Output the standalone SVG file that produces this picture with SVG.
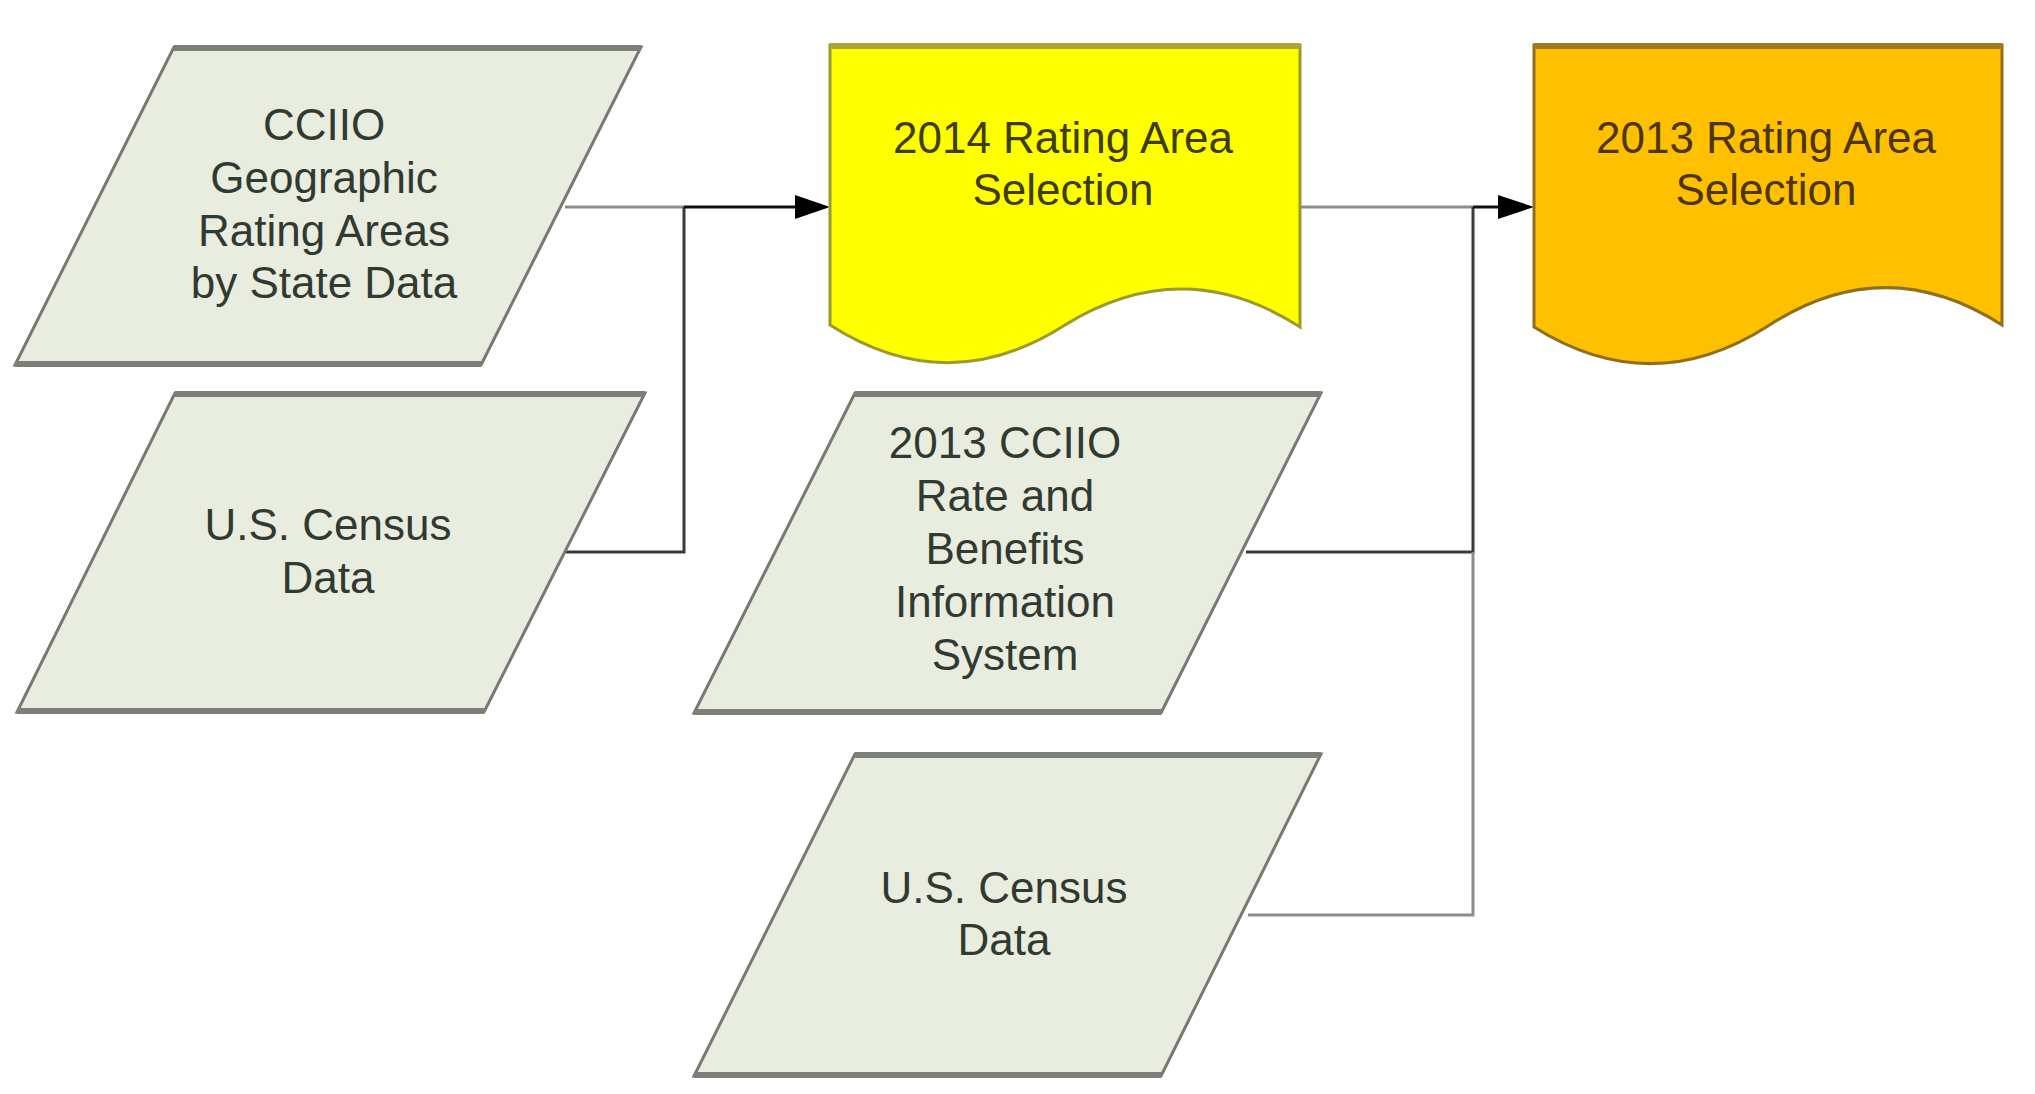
<svg xmlns="http://www.w3.org/2000/svg" width="2035" height="1094" viewBox="0 0 2035 1094">
<defs>
<style>
.data{fill:#e9ede0;stroke:#767a72;stroke-width:3;stroke-linejoin:miter}
.edge{stroke:#7c7f78;stroke-width:6;fill:none}
.t{font-family:"Liberation Sans",Arial,sans-serif;font-size:44px;text-anchor:middle}
.tg{fill:#313a31}
.ty{fill:#3e3c00}
.to{fill:#4d3500}
.doc1{fill:#ffff00;stroke:#9a9a2e;stroke-width:3}
.doc2{fill:#ffc000;stroke:#8f6f1c;stroke-width:3}
.dark{stroke:#3a3a3a;stroke-width:3;fill:none}
.light{stroke:#8c8c8c;stroke-width:3;fill:none}
</style>
<marker id="arr" markerWidth="12" markerHeight="10" refX="11" refY="5" orient="auto" markerUnits="userSpaceOnUse" viewBox="0 0 12 10">
<path d="M0,0 L12,5 L0,10 Z" fill="#000"/>
</marker>
</defs>
<rect width="2035" height="1094" fill="#ffffff"/>

<g id="connectors">
<polyline class="light" points="565,207 684,207"/>
<polyline class="dark" points="566,552 684,552 684,207"/>
<line x1="684" y1="207" x2="800" y2="207" stroke="#111" stroke-width="3"/>
<path d="M795,195 L830,207 L795,219 Z" fill="#000"/>
<polyline class="light" points="1300,207 1473,207"/>
<polyline class="dark" points="1246,552 1473,552 1473,207"/>
<polyline class="light" points="1248,915 1473,915 1473,552"/>
<line x1="1473" y1="207" x2="1500" y2="207" stroke="#111" stroke-width="3"/>
<path d="M1498,195 L1534,207 L1498,219 Z" fill="#000"/>
</g>

<g id="node-ccio-geo">
<polygon class="data" points="174,47 641,47 481,365 15,365"/>
<line class="edge" x1="174" y1="48" x2="641" y2="48"/>
<line class="edge" x1="15" y1="364" x2="481" y2="364"/>
<text class="t tg" x="324" y="140">CCIIO</text>
<text class="t tg" x="324" y="193">Geographic</text>
<text class="t tg" x="324" y="246">Rating Areas</text>
<text class="t tg" x="324" y="298">by State Data</text>
</g>

<g id="node-census-1">
<polygon class="data" points="175,393 645,393 484,712 17,712"/>
<line class="edge" x1="175" y1="394" x2="645" y2="394"/>
<line class="edge" x1="17" y1="711" x2="484" y2="711"/>
<text class="t tg" x="328" y="540">U.S. Census</text>
<text class="t tg" x="328" y="593">Data</text>
</g>

<g id="node-2014">
<path class="doc1" d="M830,45 H1300 V327 C1222,277 1143,277 1065,325 C987,375 908,375 830,325 Z"/>
<line x1="830" y1="46" x2="1300" y2="46" stroke="#a7a732" stroke-width="6"/>
<text class="t ty" x="1063" y="153">2014 Rating Area</text>
<text class="t ty" x="1063" y="205">Selection</text>
</g>

<g id="node-2013">
<path class="doc2" d="M1534,45 H2002 V325 C1924,275 1846,275 1768,326 C1690,376 1612,376 1534,327 Z"/>
<line x1="1534" y1="46" x2="2002" y2="46" stroke="#a07c1c" stroke-width="6"/>
<text class="t to" x="1766" y="153">2013 Rating Area</text>
<text class="t to" x="1766" y="205">Selection</text>
</g>

<g id="node-rbis">
<polygon class="data" points="855,393 1321,393 1161,713 694,713"/>
<line class="edge" x1="855" y1="394" x2="1321" y2="394"/>
<line class="edge" x1="694" y1="712" x2="1161" y2="712"/>
<text class="t tg" x="1005" y="458">2013 CCIIO</text>
<text class="t tg" x="1005" y="511">Rate and</text>
<text class="t tg" x="1005" y="564">Benefits</text>
<text class="t tg" x="1005" y="617">Information</text>
<text class="t tg" x="1005" y="670">System</text>
</g>

<g id="node-census-2">
<polygon class="data" points="855,754 1321,754 1161,1076 694,1076"/>
<line class="edge" x1="855" y1="755" x2="1321" y2="755"/>
<line class="edge" x1="694" y1="1075" x2="1161" y2="1075"/>
<text class="t tg" x="1004" y="903">U.S. Census</text>
<text class="t tg" x="1004" y="955">Data</text>
</g>
</svg>
